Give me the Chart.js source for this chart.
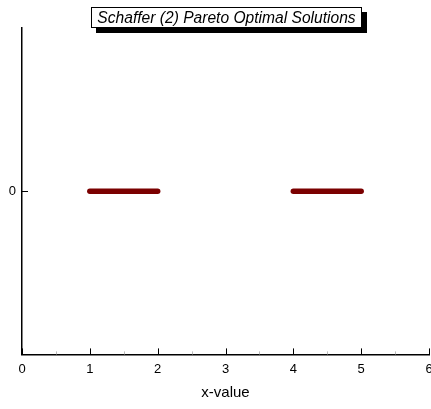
<!DOCTYPE html>
<html>
<head>
<meta charset="utf-8">
<script src="https://cdn.jsdelivr.net/npm/chart.js@4/dist/chart.umd.min.js"></script>
<style>
  html, body { margin: 0; padding: 0; background: #fff; }
  #wrap { position: relative; width: 431px; height: 409px; }
  #title {
    position: absolute; left: 91px; top: 7px; width: 259px;
    border: 1px solid #000; background: #fff;
    box-shadow: 5px 5px 0 #000;
    font: italic 15.6px "Liberation Sans", Arial, sans-serif;
    padding: 1px 5px 1px 5px; line-height: 17px; color: #000;
    white-space: nowrap; text-align: center;
  }
</style>
</head>
<body>
<div id="wrap">
  <canvas id="chart" width="431" height="409"></canvas>
  <div id="title">Schaffer (2) Pareto Optimal Solutions</div>
</div>
<script>
// Pareto optimal set: two segments on y = 0
const segmentA_x = [1, 2];
const segmentA_y = [0, 0];
const segmentB_x = [4, 5];
const segmentB_y = [0, 0];
const xTicks = [0, 1, 2, 3, 4, 5, 6];
const yTicks = [0];

const toPoints = (xs, ys) => xs.map((x, i) => ({ x: x, y: ys[i] }));

// tick marks drawn inside the plot area
const innerTicks = {
  id: "innerTicks",
  afterDraw(chart) {
    const ctx = chart.ctx;
    const x = chart.scales.x, y = chart.scales.y;
    const area = chart.chartArea;
    ctx.save();
    ctx.lineWidth = 1;
    for (let v = 0; v <= 6; v += 0.5) {
      const px = Math.round(x.getPixelForValue(v)) + 0.5;
      const major = Number.isInteger(v);
      ctx.strokeStyle = major ? "#000" : "#bbb";
      ctx.beginPath();
      ctx.moveTo(px, area.bottom);
      ctx.lineTo(px, area.bottom - (major ? 6 : 3));
      ctx.stroke();
    }
    yTicks.forEach((v) => {
      const py = Math.round(y.getPixelForValue(v)) + 0.5;
      ctx.strokeStyle = "#000";
      ctx.beginPath();
      ctx.moveTo(area.left, py);
      ctx.lineTo(area.left + 6, py);
      ctx.stroke();
    });
    ctx.restore();
  },
};

new Chart(document.getElementById("chart"), {
  type: "scatter",
  data: {
    datasets: [
      {
        data: toPoints(segmentA_x, segmentA_y),
        showLine: true,
        borderColor: "#7b0000",
        borderWidth: 5.5,
        borderCapStyle: "round",
        pointRadius: 0,
      },
      {
        data: toPoints(segmentB_x, segmentB_y),
        showLine: true,
        borderColor: "#7b0000",
        borderWidth: 5.5,
        borderCapStyle: "round",
        pointRadius: 0,
      },
    ],
  },
  options: {
    responsive: false,
    animation: false,
    layout: { padding: { top: 28, right: 2, left: 0, bottom: 7 } },
    plugins: {
      legend: { display: false },
      tooltip: { enabled: false },
    },
    scales: {
      x: {
        type: "linear",
        min: 0,
        max: 6,
        afterBuildTicks: (s) => { s.ticks = xTicks.map((v) => ({ value: v })); },
        afterFit: (s) => { s.paddingRight = 0; s.paddingLeft = 0; },
        grid: { display: false, drawTicks: false },
        border: { display: true, color: "#000", width: 1.5 },
        ticks: {
          color: "#000",
          padding: 7,
          maxRotation: 0,
          font: { family: "Liberation Sans, Arial", size: 13 },
        },
        title: {
          display: true,
          text: "x-value",
          color: "#000",
          padding: { top: 0, bottom: 0 },
          font: { family: "Liberation Sans, Arial", size: 15 },
        },
      },
      y: {
        type: "linear",
        min: -1,
        max: 1,
        afterBuildTicks: (s) => { s.ticks = yTicks.map((v) => ({ value: v })); },
        afterFit: (s) => { s.width = 22; },
        grid: { display: false, drawTicks: false },
        border: { display: true, color: "#000", width: 1.5 },
        ticks: {
          color: "#000",
          padding: 6,
          font: { family: "Liberation Sans, Arial", size: 13 },
        },
      },
    },
  },
  plugins: [innerTicks],
});
</script>
</body>
</html>
